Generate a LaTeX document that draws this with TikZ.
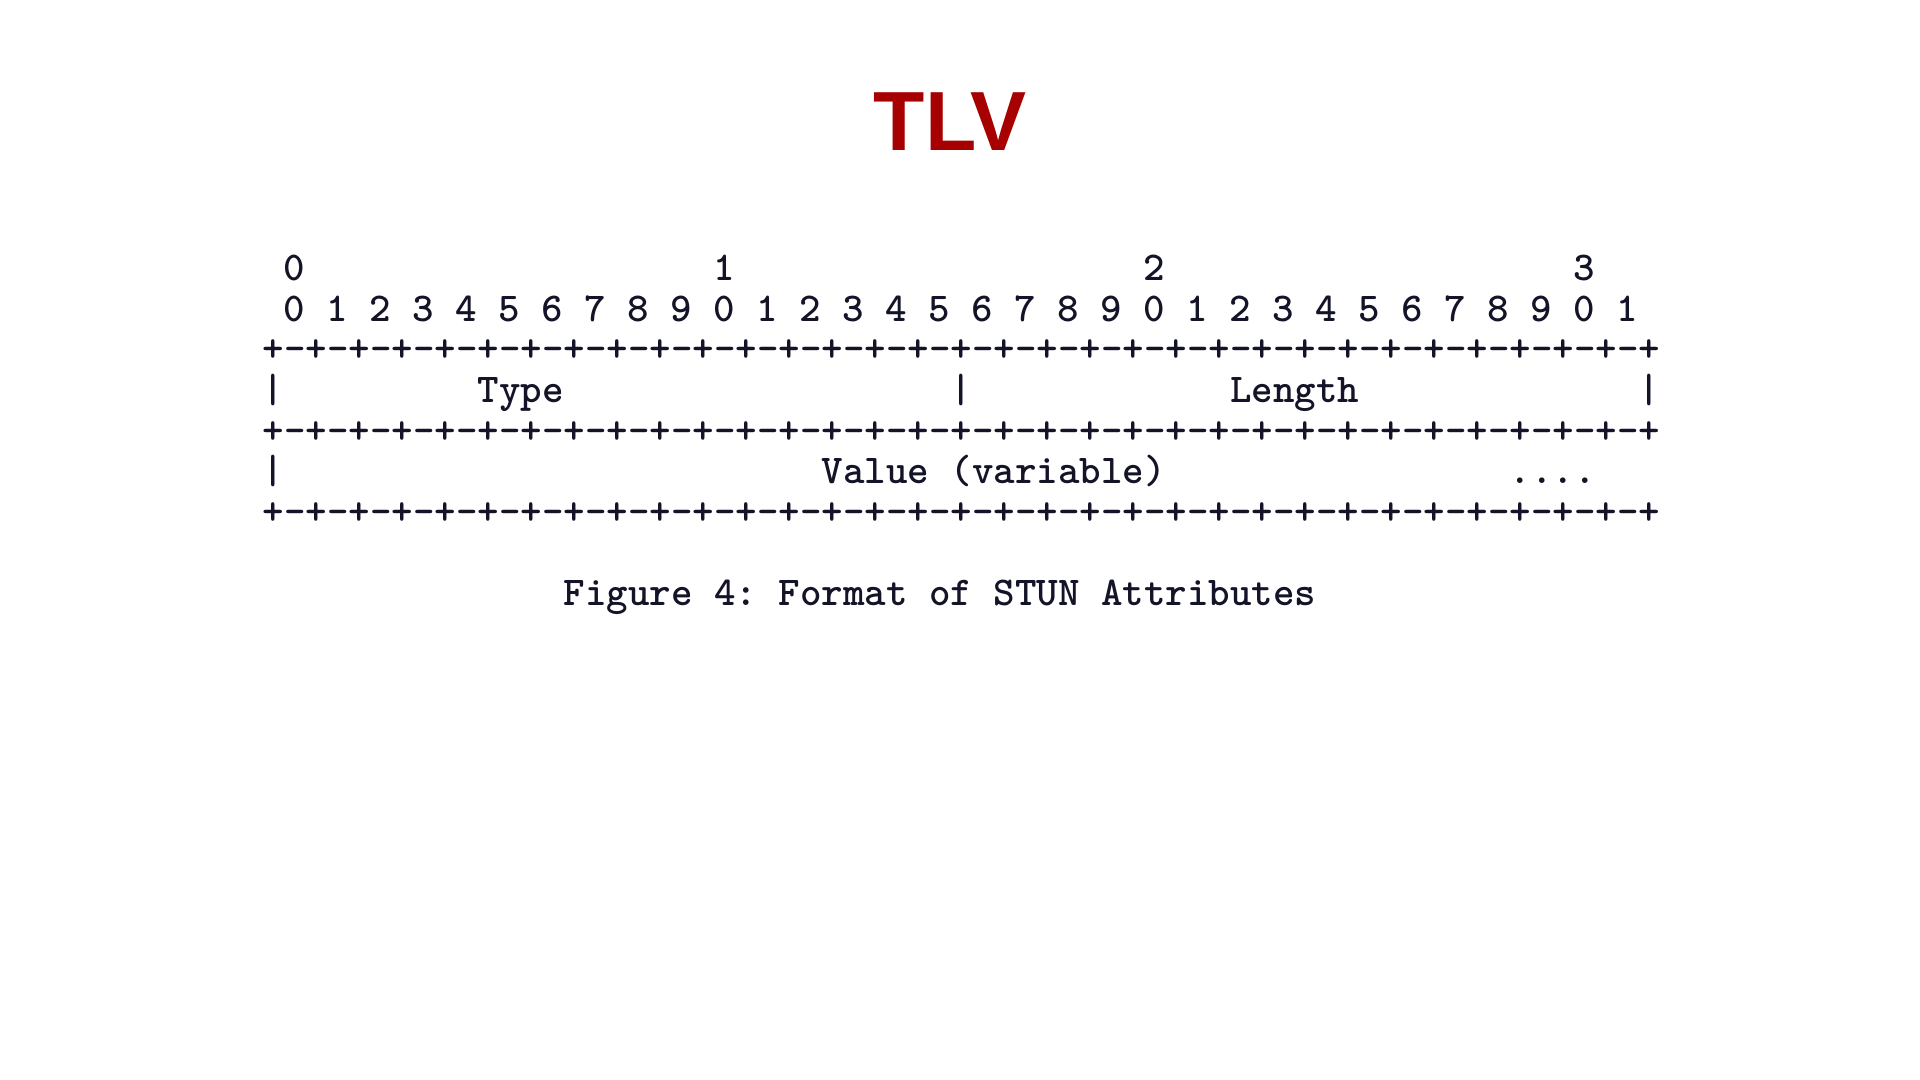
\documentclass[tikz,border=0pt]{standalone}
\usepackage{fontspec}
\newfontfamily\titlefont{Liberation Sans}
\definecolor{tlvred}{RGB}{166,0,0}
\definecolor{artink}{RGB}{20,20,40}
\newcommand\octet{+-+-+-+-+-+-+-+-}
\newcommand\bitrule{\octet\octet\octet\octet+}

\begin{document}
\begin{tikzpicture}[x=0.215cm, y=-0.406cm,
    art/.style={font=\fontsize{11.65pt}{12pt}\selectfont\ttfamily\bfseries\frenchspacing, text=artink, inner sep=0pt, anchor=base},
    artleft/.style={art, anchor=base west}]
    \useasboundingbox (-2.73cm,3.62cm) rectangle (16.47cm,-7.18cm);

    % Title
    \node[font=\titlefont\fontsize{23.9pt}{28pt}\selectfont\bfseries, text=tlvred, inner sep=0pt, anchor=base] (title) at (6.77cm,2.11cm) {TLV};

    % Bit numbers
    \foreach \d in {0,...,3}
        \node[art] (tens\d) at (1+20*\d, -2) {\d};
    \foreach \k in {0,...,31} {
        \pgfmathtruncatemacro\u{mod(\k,10)}
        \node[art] (bit\k) at (1+2*\k, -1) {\u};
    }

    % Rules
    \foreach \r in {0,2,4}
        \node[artleft] (rule\r) at (-0.5, \r) {\bitrule};

    % Type / Length
    \node[art] (barL1) at (0,1) {|};
    \node[artleft] (type) at (9.5,1) {Type};
    \node[art] (barM1) at (32,1) {|};
    \node[artleft] (length) at (44.5,1) {Length};
    \node[art] (barR1) at (64,1) {|};

    % Value
    \node[art] (barL3) at (0,3) {|};
    \node[artleft] (value) at (25.5,3) {Value (variable)};
    \node[artleft] (dots) at (57.5,3) {....};

    % Caption
    \node[artleft] (caption) at (13.5,6) {Figure 4: Format of STUN Attributes};
\end{tikzpicture}
\end{document}
